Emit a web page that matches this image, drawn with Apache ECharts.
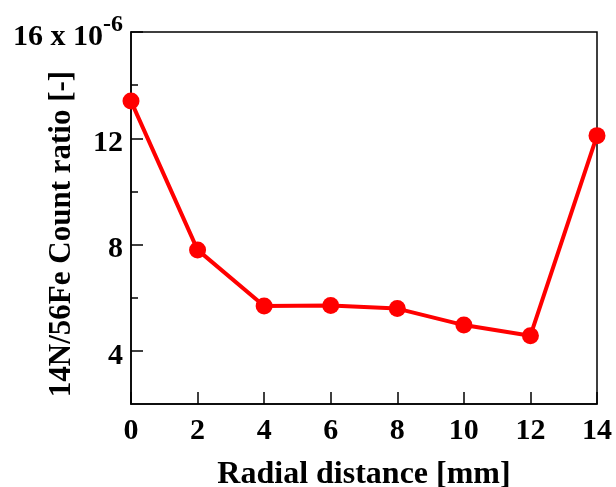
<!DOCTYPE html>
<html><head><meta charset="utf-8">
<script src="https://cdn.jsdelivr.net/npm/echarts@6/dist/echarts.min.js"></script>
<style>html,body{margin:0;padding:0;background:#fff}#c{width:616px;height:487px}</style>
</head><body><div id="c"></div>
<script>
const xValues = [0, 2, 4, 6, 8, 10, 12, 14];
const ratioValues = [13.4, 7.8, 5.69, 5.71, 5.59, 4.97, 4.57, 12.1];
const yLabelValues = [4, 8, 12, 16];
const yMinorTickValues = [6, 10, 14];
const xTitle = 'Radial distance [mm]';
const yTitle = '14N/56Fe Count ratio [-]';

const font = '"Liberation Serif", "Times New Roman", serif';
const chart = echarts.init(document.getElementById('c'));
chart.setOption({
  animation: false,
  grid: { left: 131, right: 19, top: 32, bottom: 83, containLabel: false, outerBoundsMode: 'none', show: true, borderColor: '#000', borderWidth: 1.5, backgroundColor: 'transparent' },
  xAxis: {
    type: 'value', min: 0, max: 14, interval: 2,
    name: xTitle, nameLocation: 'middle', nameGap: 55, nameMoveOverlap: false,
    nameTextStyle: { fontFamily: font, fontWeight: 'bold', fontSize: 32, color: '#000' },
    axisLine: { lineStyle: { color: '#000', width: 1.5 } },
    axisTick: { inside: true, length: 12, lineStyle: { color: '#000', width: 1.5 } },
    axisLabel: { fontFamily: font, fontWeight: 'bold', fontSize: 30, color: '#000', margin: 12 },
    splitLine: { show: false }
  },
  yAxis: [{
    type: 'value', min: 2, max: 16,
    name: yTitle, nameLocation: 'middle', nameGap: 54, nameMoveOverlap: false,
    nameTextStyle: { fontFamily: font, fontWeight: 'bold', fontSize: 31, color: '#000', padding: [0, 32, 0, 0] },
    axisLine: { lineStyle: { color: '#000', width: 1.5 } },
    axisTick: { inside: true, length: 12, customValues: yLabelValues, lineStyle: { color: '#000', width: 1.5 } },
    axisLabel: {
      customValues: yLabelValues, margin: 8,
      formatter: v => v === 16 ? '{a|16 x 10}{s|-6}' : '{a|' + v + '}',
      rich: {
        a: { fontFamily: font, fontWeight: 'bold', fontSize: 30, color: '#000', padding: [10, 0, 0, 0] },
        s: { fontFamily: font, fontWeight: 'bold', fontSize: 24, color: '#000', padding: [0, 0, 14, 0] }
      }
    },
    splitLine: { show: false }
  }, {
    type: 'value', min: 2, max: 16, position: 'left',
    axisLine: { show: false },
    axisTick: { inside: true, length: 7, customValues: yMinorTickValues, lineStyle: { color: '#000', width: 1.5 } },
    axisLabel: { show: false },
    splitLine: { show: false }
  }],
  series: [{
    type: 'line', yAxisIndex: 0,
    data: xValues.map((x, i) => [x, ratioValues[i]]),
    symbol: 'circle', symbolSize: 17,
    lineStyle: { color: '#ff0000', width: 4 },
    itemStyle: { color: '#ff0000' },
    clip: false
  }]
});
</script></body></html>
